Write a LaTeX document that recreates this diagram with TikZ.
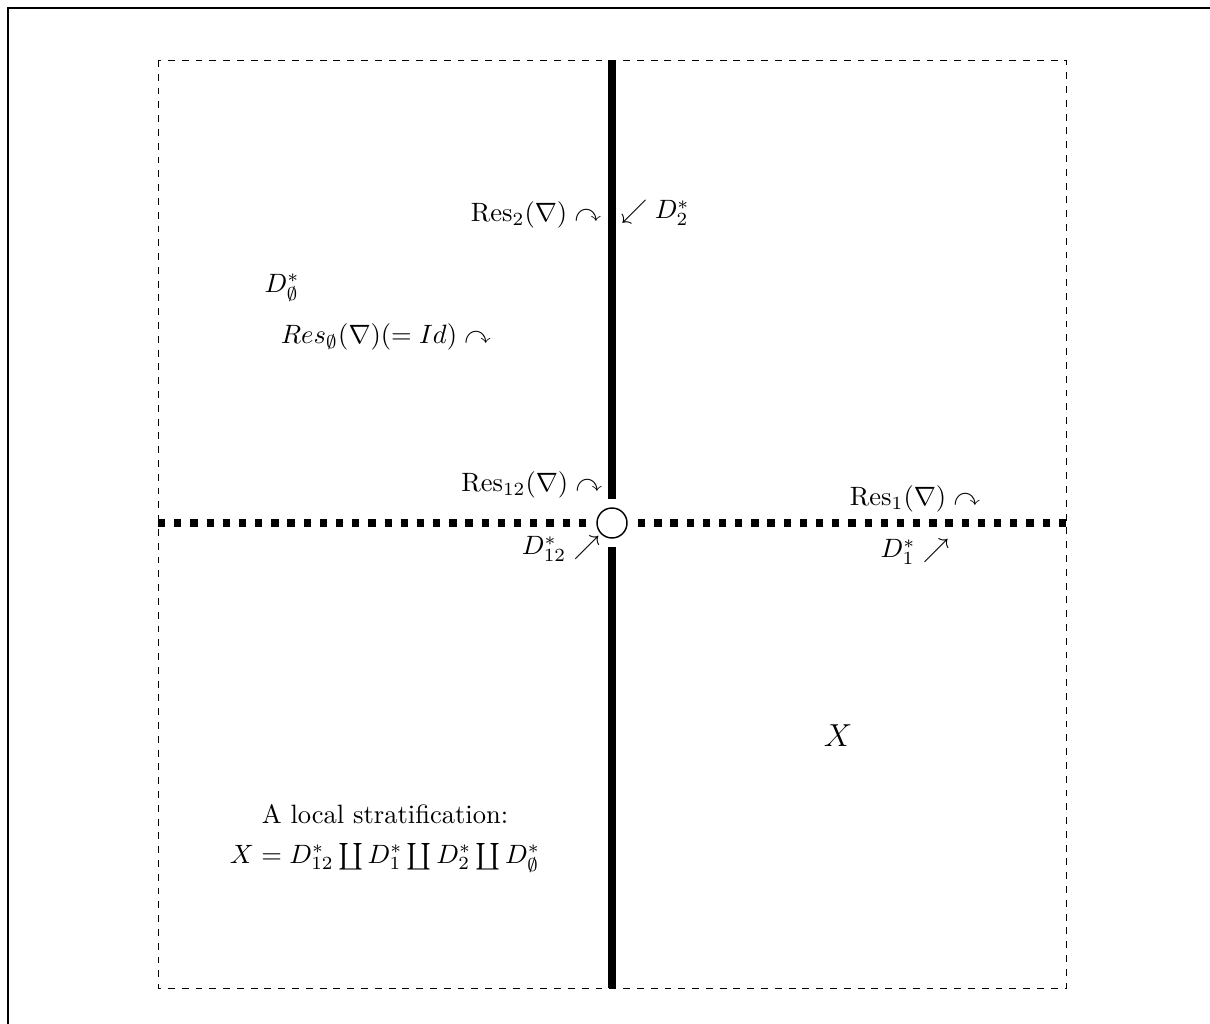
\documentclass[tikz,border=0pt]{standalone}
\usepackage{amssymb}
\begin{document}
\begin{tikzpicture}[x=0.377pt,y=-0.377pt,
  lbl/.style={inner sep=0.5pt},
  divisor/.style={line width=2.85pt},
  dotdiv/.style={line width=2.85pt, dash pattern=on 2.75pt off 3.35pt}]
\useasboundingbox (0,0) rectangle (1210,1024);
\clip (0,0) rectangle (1210,1024);
\draw[line width=1pt] (8,8) rectangle (1240,1060);
\draw[line width=0.3pt, dash pattern=on 2.6pt off 2.6pt] (158,60) rectangle (1066,988);
\node[circle, draw, line width=0.55pt, minimum size=11.3pt, inner sep=0pt, outer sep=3.4pt] (o) at (612,523) {};
\coordinate (top) at (612,60);
\coordinate (bot) at (612,988);
\coordinate (lft) at (158,523);
\coordinate (rgt) at (1066,523);
\draw[divisor] (top) -- (o.north);
\draw[divisor] (o.south) -- (bot);
\draw[dotdiv] (lft) -- (o.west);
\draw[dotdiv] (rgt) -- (o.east);
\node[lbl, anchor=east] (res2) at (603,215) {$\mathrm{Res}_2(\nabla)\curvearrowright$};
\node[lbl, anchor=west] (d2) at (619,213) {$\swarrow D_2^*$};
\node[lbl] (dempty) at (282,288) {$D_\emptyset^*$};
\node[lbl, anchor=west] (resempty) at (279,337) {$Res_\emptyset(\nabla)(=Id)\curvearrowright$};
\node[lbl, anchor=east] (res12) at (604,485) {$\mathrm{Res}_{12}(\nabla)\curvearrowright$};
\node[lbl, anchor=east] (d12) at (602,549) {$D_{12}^* \nearrow$};
\node[lbl] (res1) at (915,499) {$\mathrm{Res}_1(\nabla)\curvearrowright$};
\node[lbl] (d1) at (915,552) {$D_1^* \nearrow$};
\node[lbl] (x) at (838,736) {\large $X$};
\node[lbl] (strat) at (385,814) {A local stratification:};
\node[lbl] (formula) at (385,858) {$X=D_{12}^*\coprod D_1^*\coprod D_2^*\coprod D_\emptyset^*$};
\end{tikzpicture}
\end{document}
